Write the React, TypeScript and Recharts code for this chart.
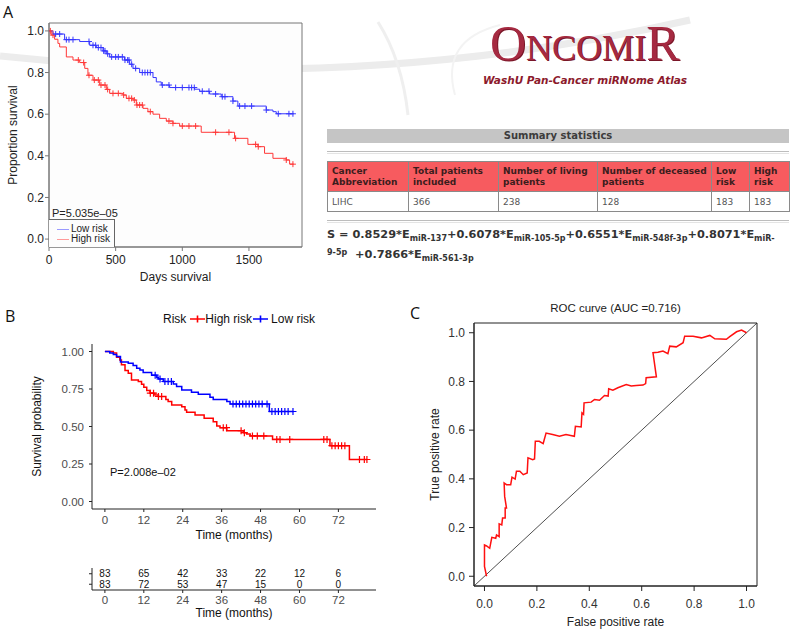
import React from 'react';
import { ComposedChart, ScatterChart, Line, Scatter, XAxis, YAxis, ReferenceLine, ReferenceArea } from 'recharts';

// ---- Panel A: OncomiR Kaplan-Meier (days) ----
const aLowRisk: [number, number][] = [
  [0, 1.0], [30, 0.985], [117, 0.958], [230, 0.949], [305, 0.931], [355, 0.92], [405, 0.904],
  [430, 0.89], [455, 0.875], [567, 0.86], [605, 0.84], [630, 0.82], [680, 0.8], [780, 0.776],
  [805, 0.755], [842, 0.74], [905, 0.728], [1092, 0.72], [1130, 0.71], [1205, 0.697],
  [1292, 0.684], [1380, 0.663], [1417, 0.639], [1630, 0.62], [1680, 0.612], [1705, 0.602], [1835, 0.602],
];
const aLowCensored = [50, 80, 130, 150, 180, 300, 330, 350, 370, 390, 410, 420, 440, 470, 500, 520, 550,
  570, 590, 600, 620, 650, 700, 720, 740, 760, 850, 900, 950, 1000, 1050, 1070, 1090, 1150, 1200, 1250,
  1300, 1320, 1380, 1430, 1470, 1520, 1630, 1720, 1800, 1830];
const aHighRisk: [number, number][] = [
  [0, 1.0], [17, 0.98], [42, 0.96], [67, 0.94], [80, 0.923], [130, 0.875], [180, 0.86], [230, 0.848],
  [268, 0.82], [292, 0.787], [330, 0.764], [380, 0.74], [430, 0.719], [455, 0.7], [555, 0.692],
  [580, 0.676], [630, 0.668], [655, 0.644], [705, 0.628], [742, 0.612], [780, 0.6], [830, 0.58],
  [880, 0.567], [930, 0.556], [980, 0.543], [1142, 0.513], [1392, 0.484], [1492, 0.455], [1567, 0.444],
  [1617, 0.412], [1680, 0.388], [1780, 0.38], [1805, 0.36], [1835, 0.36],
];
const aHighCensored = [10, 30, 220, 260, 300, 340, 370, 390, 420, 440, 480, 520, 560, 600, 620, 640, 660,
  680, 700, 760, 900, 930, 1000, 1050, 1100, 1250, 1350, 1400, 1550, 1570, 1780, 1830];
const aDayTicks = [0, 500, 1000, 1500];
const aSurvTicks = [0, 0.2, 0.4, 0.6, 0.8, 1.0];
const aDayDomain = [0, 1898];
const aSurvDomain = [-0.038, 1.038];

// ---- Panel B: survminer Kaplan-Meier (months) ----
const bHighRisk: [number, number][] = [
  [0, 1], [2.6, 0.99], [3.6, 0.962], [4.6, 0.944], [5.1, 0.911], [6.2, 0.873], [7.2, 0.855], [8.2, 0.81],
  [10.3, 0.8], [11.3, 0.782], [12, 0.762], [12.9, 0.74], [13.9, 0.722], [15.4, 0.71], [16.5, 0.7],
  [18.8, 0.68], [19.5, 0.666], [20.6, 0.644], [23.7, 0.632], [24.7, 0.61], [25.2, 0.595], [27.8, 0.577],
  [30.6, 0.555], [33.4, 0.532], [34.5, 0.503], [35.5, 0.492], [37.6, 0.472], [42.7, 0.459], [43.7, 0.45],
  [44.8, 0.437], [51.7, 0.414], [69.4, 0.372], [75.4, 0.28], [80.8, 0.28],
];
const bHighCensored = [14, 15, 16.5, 17.5, 36.5, 37.5, 42, 43, 45.5, 47, 49, 53, 54, 57, 67.5, 68.5, 70, 71,
  72, 73, 74, 78.5, 80, 80.8];
const bLowRisk: [number, number][] = [
  [0, 1], [1.5, 0.99], [2.6, 0.98], [3.6, 0.967], [4.8, 0.93], [7.2, 0.922], [8.7, 0.906], [9.8, 0.889],
  [10.8, 0.877], [11.8, 0.86], [14.4, 0.842], [16, 0.828], [16.5, 0.817], [18, 0.8], [21.1, 0.784],
  [22.1, 0.766], [23.7, 0.744], [26.7, 0.728], [28.8, 0.715], [32.4, 0.695], [33.4, 0.68], [37.6, 0.666],
  [38.6, 0.65], [50.7, 0.6], [58.1, 0.6],
];
const bLowCensored = [15.5, 17, 18.5, 19.5, 20.5, 39.5, 40.5, 41.5, 42.5, 43.5, 44.5, 45.5, 46.5, 47.5,
  48.5, 50, 51.5, 52.5, 53.5, 54.5, 55.5, 56.5, 58];
const bMonthTicks = [0, 12, 24, 36, 48, 60, 72];
const bProbTicks = [0, 0.25, 0.5, 0.75, 1];
const bHighAtRisk = [83, 65, 42, 33, 22, 12, 6];
const bLowAtRisk = [83, 72, 53, 47, 15, 0, 0];

// ---- Panel C: ROC ----
const rocCurve: [number, number][] = [
  [0.008, 0], [0, 0.04], [0, 0.129], [0.008, 0.125], [0.02, 0.115], [0.028, 0.16], [0.043, 0.156],
  [0.046, 0.17], [0.056, 0.163], [0.056, 0.215], [0.066, 0.211], [0.069, 0.239], [0.079, 0.239],
  [0.079, 0.28], [0.084, 0.28], [0.077, 0.328], [0.075, 0.383], [0.084, 0.376], [0.1, 0.376],
  [0.105, 0.407], [0.117, 0.399], [0.122, 0.431], [0.135, 0.431], [0.148, 0.417], [0.163, 0.424],
  [0.166, 0.486], [0.184, 0.479], [0.191, 0.482], [0.194, 0.554], [0.209, 0.554], [0.224, 0.545],
  [0.235, 0.588], [0.26, 0.582], [0.286, 0.575], [0.311, 0.582], [0.343, 0.575], [0.347, 0.616],
  [0.369, 0.613], [0.372, 0.671], [0.378, 0.665], [0.38, 0.712], [0.407, 0.715], [0.42, 0.726],
  [0.439, 0.723], [0.458, 0.742], [0.472, 0.74], [0.474, 0.77], [0.49, 0.764], [0.509, 0.774],
  [0.541, 0.787], [0.56, 0.781], [0.579, 0.783], [0.605, 0.785], [0.615, 0.791], [0.617, 0.815],
  [0.656, 0.819], [0.643, 0.918], [0.662, 0.92], [0.681, 0.925], [0.7, 0.914], [0.707, 0.945],
  [0.732, 0.942], [0.758, 0.959], [0.764, 0.986], [0.796, 0.986], [0.828, 0.979], [0.86, 0.989],
  [0.879, 0.975], [0.923, 0.973], [0.936, 0.984], [0.962, 1.004], [0.981, 1.011], [1.0, 1.0],
];
const rocTicks = [0, 0.2, 0.4, 0.6, 0.8, 1.0];
const rocDomain = [-0.04, 1.04];

// ---- Summary table ----
const tableHeaders = ['Cancer Abbreviation', 'Total patients included', 'Number of living patients',
  'Number of deceased patients', 'Low risk', 'High risk'];
const tableValues = ['LIHC', '366', '238', '128', '183', '183'];
const tableColWidths = [81, 90, 99, 114, 38, 40];

const toRows = (pts: [number, number][]) => pts.map(([t, s]) => ({ t, s }));
const stepAt = (pts: [number, number][], t: number) => {
  let v = pts[0][1];
  for (const [pt, ps] of pts) if (pt <= t) v = ps;
  return v;
};
const censorRows = (pts: [number, number][], cens: number[]) => cens.map((t) => ({ t, s: stepAt(pts, t) }));

const plus = (color: string, r: number, w: number) => (props: any) => {
  const { cx, cy } = props;
  if (cx == null || cy == null) return <g />;
  return <path d={`M${cx - r},${cy}H${cx + r}M${cx},${cy - r}V${cy + r}`} stroke={color} strokeWidth={w} fill="none" />;
};

const riskText = (props: any) => {
  const { cx, cy, payload } = props;
  if (cx == null) return <g />;
  return (
    <text x={cx} y={cy} textAnchor="middle" dominantBaseline="central" fontSize={10} fill="#111">
      {payload.n}
    </text>
  );
};

const SANS = '"Liberation Sans", Arial, sans-serif';
const VERD = '"DejaVu Sans", Verdana, sans-serif';

function PanelA() {
  const lowCol = '#3636ff';
  const highCol = '#ff3838';
  return (
    <div style={{ position: 'absolute', left: 0, top: 0 }}>
      <ComposedChart width={320} height={290} margin={{ top: 23, right: 18, left: 0, bottom: 0 }}>
        <ReferenceArea x1={aDayDomain[0]} x2={aDayDomain[1]} y1={aSurvDomain[0]} y2={aSurvDomain[1]}
          fill="#fdfdfd" fillOpacity={1} stroke="#777" strokeWidth={1} />
        <XAxis dataKey="t" type="number" domain={aDayDomain} ticks={aDayTicks} allowDataOverflow
          height={43} tickSize={4} tickMargin={4} stroke="#777"
          tick={{ fill: '#222', fontSize: 12, fontFamily: SANS }}
          label={{ value: 'Days survival', position: 'insideBottom', offset: 9, fill: '#222', fontSize: 12, fontFamily: SANS }} />
        <YAxis dataKey="s" type="number" domain={aSurvDomain} ticks={aSurvTicks} allowDataOverflow
          width={49} tickSize={4} tickMargin={1} stroke="#777" tickFormatter={(v: number) => v.toFixed(1)}
          tick={{ fill: '#222', fontSize: 12, fontFamily: SANS }}
          label={{ value: 'Proportion survival', angle: -90, position: 'insideLeft', offset: 13, fill: '#222', fontSize: 12, fontFamily: SANS, style: { textAnchor: 'middle' } }} />
        <Line data={toRows(aHighRisk)} dataKey="s" type="stepAfter" stroke={highCol} strokeWidth={1} dot={false} isAnimationActive={false} />
        <Line data={toRows(aLowRisk)} dataKey="s" type="stepAfter" stroke={lowCol} strokeWidth={1} dot={false} isAnimationActive={false} />
        <Scatter data={censorRows(aHighRisk, aHighCensored)} dataKey="s" shape={plus(highCol, 3, 1)} isAnimationActive={false} />
        <Scatter data={censorRows(aLowRisk, aLowCensored)} dataKey="s" shape={plus(lowCol, 3, 1)} isAnimationActive={false} />
      </ComposedChart>
      <div style={{ position: 'absolute', left: 52, top: 207, fontFamily: SANS, fontSize: 11, color: '#222' }}>P=5.035e&#8211;05</div>
      <div style={{ position: 'absolute', left: 49, top: 219, width: 65, height: 27, border: '1px solid #666', borderLeft: 'none', borderBottom: 'none', fontFamily: SANS, fontSize: 10, color: '#222', lineHeight: '10px', whiteSpace: 'nowrap', background: '#fdfdfd' }}>
        <div style={{ display: 'flex', alignItems: 'center', marginTop: 4 }}>
          <span style={{ display: 'inline-block', width: 12, height: 1, background: '#9a9aff', marginLeft: 8, marginRight: 2 }} />Low risk
        </div>
        <div style={{ display: 'flex', alignItems: 'center', marginTop: 0 }}>
          <span style={{ display: 'inline-block', width: 12, height: 1, background: '#ff9a9a', marginLeft: 8, marginRight: 2 }} />High risk
        </div>
      </div>
    </div>
  );
}

function Header() {
  return (
    <>
      <svg width={793} height={130} style={{ position: 'absolute', left: 0, top: 0 }}>
        <path d="M0,56 Q 360,95 690,20" stroke="#ececec" strokeWidth={7} fill="none" />
        <path d="M378,22 Q 402,60 408,115" stroke="#efefef" strokeWidth={3} fill="none" />
        <path d="M455,95 Q 440,40 500,25" stroke="#f3f3f3" strokeWidth={2} fill="none" />
      </svg>
      <div style={{ position: 'absolute', left: 490, top: 19, fontFamily: '"Liberation Serif", "DejaVu Serif", serif', color: '#a52a41', textShadow: '1px 1px 0 #7a1628', whiteSpace: 'nowrap', lineHeight: '48px' }}>
        <span style={{ fontSize: 50 }}>O</span>
        <span style={{ fontSize: 36 }}>NCOMI</span>
        <span style={{ fontSize: 50 }}>R</span>
      </div>
      <div style={{ position: 'absolute', left: 483, top: 74, fontFamily: VERD, fontWeight: 'bold', fontStyle: 'italic', fontSize: 10.5, color: '#8c1a2c', whiteSpace: 'nowrap' }}>
        WashU Pan-Cancer miRNome Atlas
      </div>
    </>
  );
}

function SummaryTable() {
  const sub = { fontSize: 8, verticalAlign: 'sub' as const };
  return (
    <div style={{ position: 'absolute', left: 327, top: 129, width: 462, fontFamily: VERD }}>
      <div style={{ height: 14, background: '#c5c5c5', textAlign: 'center', fontWeight: 'bold', fontSize: 10, lineHeight: '14px', color: '#3c3c3c' }}>
        Summary statistics
      </div>
      <div style={{ marginTop: 8, height: 1, borderTop: '1px solid #bdbdbd', borderBottom: '1px solid #e4e4e4' }} />
      <table style={{ marginTop: 7, borderCollapse: 'collapse', width: 462, tableLayout: 'fixed', fontSize: 9 }}>
        <colgroup>
          {tableColWidths.map((w, i) => <col key={i} style={{ width: w }} />)}
        </colgroup>
        <tbody>
          <tr style={{ height: 30, background: '#f75b5f' }}>
            {tableHeaders.map((h) => (
              <td key={h} style={{ border: '1px solid #8a8a8a', padding: '0 4px', fontWeight: 'bold', color: '#3b1d1d', lineHeight: '11px', verticalAlign: 'middle' }}>{h}</td>
            ))}
          </tr>
          <tr style={{ height: 20, background: '#fff' }}>
            {tableValues.map((v, i) => (
              <td key={i} style={{ border: '1px solid #8a8a8a', padding: '0 4px', color: '#555' }}>{v}</td>
            ))}
          </tr>
        </tbody>
      </table>
      <div style={{ marginTop: 8, height: 1, borderTop: '1px solid #bdbdbd', borderBottom: '1px solid #e4e4e4' }} />
      <div style={{ marginTop: 4, fontWeight: 'bold', fontSize: 11.3, color: '#333', whiteSpace: 'nowrap', lineHeight: '16px' }}>
        <div>S = 0.8529*E<span style={sub}>miR-137</span>+0.6078*E<span style={sub}>miR-105-5p</span>+0.6551*E<span style={sub}>miR-548f-3p</span>+0.8071*E<span style={sub}>miR-</span></div>
        <div><span style={{ fontSize: 8, position: 'relative', top: -3 }}>9-5p</span>&nbsp; +0.7866*E<span style={sub}>miR-561-3p</span></div>
      </div>
    </div>
  );
}

function PanelB() {
  const high = '#ff0000';
  const low = '#0000ff';
  const riskRows = [
    ...bMonthTicks.map((t, i) => ({ t, row: 2, n: bHighAtRisk[i] })),
    ...bMonthTicks.map((t, i) => ({ t, row: 1, n: bLowAtRisk[i] })),
  ];
  const tickStyle = { fill: '#4d4d4d', fontSize: 11.5, fontFamily: SANS };
  return (
    <>
      <div style={{ position: 'absolute', left: 0, top: 310 }}>
        <ComposedChart width={400} height={240} margin={{ top: 34, right: 24, left: 0, bottom: 0 }}>
          <XAxis dataKey="t" type="number" domain={[-3.98, 83.6]} ticks={bMonthTicks} allowDataOverflow
            height={41} tickSize={3} tickMargin={4} stroke="#222" tick={tickStyle}
            label={{ value: 'Time (months)', position: 'insideBottom', offset: 11, fill: '#111', fontSize: 12, fontFamily: SANS }} />
          <YAxis dataKey="s" type="number" domain={[-0.05, 1.05]} ticks={bProbTicks} allowDataOverflow
            width={92} tickSize={3} tickMargin={5} stroke="#222" tick={tickStyle}
            tickFormatter={(v: number) => v.toFixed(2)}
            label={{ value: 'Survival probability', angle: -90, position: 'insideLeft', offset: 37, fill: '#111', fontSize: 12, fontFamily: SANS, style: { textAnchor: 'middle' } }} />
          <Line data={toRows(bHighRisk)} dataKey="s" type="stepAfter" stroke={high} strokeWidth={1.5} dot={false} isAnimationActive={false} />
          <Line data={toRows(bLowRisk)} dataKey="s" type="stepAfter" stroke={low} strokeWidth={1.5} dot={false} isAnimationActive={false} />
          <Scatter data={censorRows(bHighRisk, bHighCensored)} dataKey="s" shape={plus(high, 3.5, 1.2)} isAnimationActive={false} />
          <Scatter data={censorRows(bLowRisk, bLowCensored)} dataKey="s" shape={plus(low, 3.5, 1.2)} isAnimationActive={false} />
        </ComposedChart>
      </div>
      <div style={{ position: 'absolute', left: 163, top: 312, fontFamily: SANS, fontSize: 12, color: '#111', display: 'flex', alignItems: 'center', whiteSpace: 'nowrap' }}>
        Risk
        <svg width={15} height={10} style={{ margin: '0 0 0 4px' }}><path d="M0,5H15M7.5,1.5V8.5" stroke={high} strokeWidth={1.6} /></svg>
        High risk
        <svg width={15} height={10} style={{ margin: '0 3px 0 1px' }}><path d="M0,5H15M7.5,1.5V8.5" stroke={low} strokeWidth={1.6} /></svg>
        Low risk
      </div>
      <div style={{ position: 'absolute', left: 110, top: 466, fontFamily: SANS, fontSize: 11, color: '#111' }}>P=2.008e&#8211;02</div>
      <div style={{ position: 'absolute', left: 0, top: 560 }}>
        <ScatterChart width={400} height={69} margin={{ top: 8, right: 24, left: 0, bottom: 0 }}>
          <XAxis dataKey="t" type="number" domain={[-3.98, 83.6]} ticks={bMonthTicks} allowDataOverflow
            height={39} tickSize={3} tickMargin={3} stroke="#222" tick={tickStyle}
            label={{ value: 'Time (months)', position: 'insideBottom', offset: 12, fill: '#111', fontSize: 12, fontFamily: SANS }} />
          <YAxis dataKey="row" type="number" domain={[0.45, 2.55]} ticks={[1, 2]} width={92} tickSize={3}
            stroke="#222" tickFormatter={() => ''} />
          <Scatter data={riskRows} dataKey="row" shape={riskText} isAnimationActive={false} />
        </ScatterChart>
      </div>
    </>
  );
}

function PanelC() {
  const rows = rocCurve.map(([x, y]) => ({ x, y }));
  const tickStyle = { fill: '#333', fontSize: 12, fontFamily: SANS };
  return (
    <div style={{ position: 'absolute', left: 400, top: 290 }}>
      <ComposedChart width={393} height={339} margin={{ top: 33, right: 36, left: 0, bottom: 0 }}>
        <ReferenceArea x1={rocDomain[0]} x2={rocDomain[1]} y1={rocDomain[0]} y2={rocDomain[1]}
          fill="none" stroke="#222" strokeWidth={1}
          label={{ value: 'ROC curve (AUC =0.716)', position: 'top', offset: 11, fill: '#222', fontSize: 11.5, fontFamily: SANS }} />
        <XAxis dataKey="x" type="number" domain={rocDomain} ticks={rocTicks} allowDataOverflow
          height={43} tickSize={5} tickMargin={8} stroke="#222" tick={tickStyle}
          tickFormatter={(v: number) => v.toFixed(1)}
          label={{ value: 'False positive rate', position: 'insideBottom', offset: 3, fill: '#222', fontSize: 12, fontFamily: SANS }} />
        <YAxis dataKey="y" type="number" domain={rocDomain} ticks={rocTicks} allowDataOverflow
          width={74} tickSize={5} tickMargin={4} stroke="#222" tick={tickStyle}
          tickFormatter={(v: number) => v.toFixed(1)}
          label={{ value: 'True positive rate', angle: -90, position: 'insideLeft', offset: 35, fill: '#222', fontSize: 12, fontFamily: SANS, style: { textAnchor: 'middle' } }} />
        <ReferenceLine segment={[{ x: rocDomain[0], y: rocDomain[0] }, { x: rocDomain[1], y: rocDomain[1] }]} stroke="#222" strokeWidth={0.8} />
        <Line data={rows} dataKey="y" type="linear" stroke="#ff1010" strokeWidth={1.5} dot={false} isAnimationActive={false} />
      </ComposedChart>
    </div>
  );
}

export default function App() {
  const letter = { position: 'absolute' as const, fontFamily: '"Open Sans", "Liberation Sans", sans-serif', fontSize: 16, color: '#111' };
  return (
    <div style={{ position: 'absolute', left: 0, top: 0, width: 793, height: 629, background: '#fff', overflow: 'hidden', fontFamily: SANS }}>
      <Header />
      <PanelA />
      <SummaryTable />
      <PanelB />
      <PanelC />
      <div style={{ ...letter, left: 3, top: 1 }}>A</div>
      <div style={{ ...letter, left: 5, top: 305 }}>B</div>
      <div style={{ ...letter, left: 410, top: 302 }}>C</div>
    </div>
  );
}
